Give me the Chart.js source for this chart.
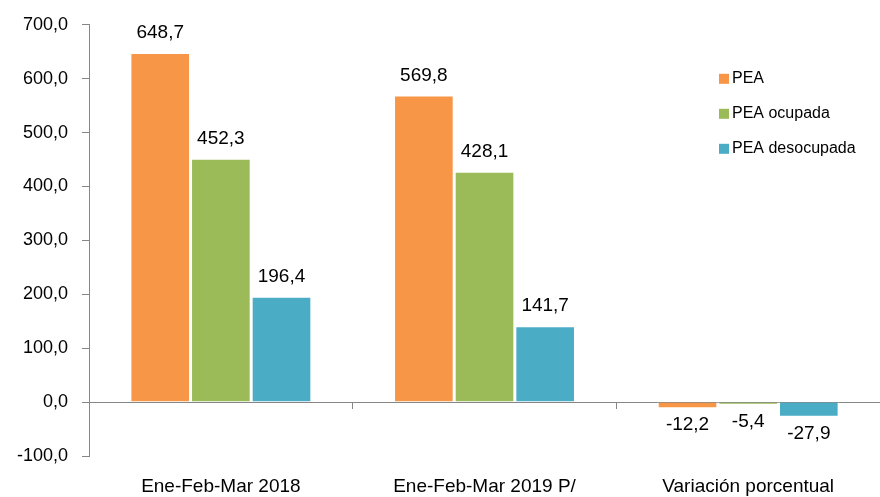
<!DOCTYPE html>
<html>
<head>
<meta charset="utf-8">
<script src="https://cdn.jsdelivr.net/npm/chart.js@4/dist/chart.umd.min.js"></script>
<style>
  html, body { margin: 0; padding: 0; background: #fff; }
  #wrap { width: 880px; height: 497px; }
</style>
</head>
<body>
<div id="wrap"><canvas id="c"></canvas></div>
<script>
const categories = ["Ene-Feb-Mar 2018", "Ene-Feb-Mar 2019 P/", "Variación porcentual"];
const seriesNames = ["PEA", "PEA ocupada", "PEA desocupada"];
const pea = [648.7, 569.8, -12.2];
const peaOcupada = [452.3, 428.1, -5.4];
const peaDesocupada = [196.4, 141.7, -27.9];
const yMin = -100, yMax = 700, yStep = 100;

const colors = ["#F79646", "#9BBB59", "#4BACC6"];
const axisGray = "#868686";
const fontFam = "'Liberation Sans', Arial, sans-serif";
const fmt = v => v.toFixed(1).replace(".", ",");

const barLabels = {
  id: "barLabels",
  afterDatasetsDraw(chart) {
    const ctx = chart.ctx;
    ctx.save();
    ctx.font = "19px " + fontFam;
    ctx.fillStyle = "#000";
    ctx.textAlign = "center";
    chart.data.datasets.forEach((ds, i) => {
      chart.getDatasetMeta(i).data.forEach((bar, j) => {
        const v = ds.data[j];
        if (v >= 0) {
          ctx.textBaseline = "bottom";
          ctx.fillText(fmt(v), bar.x, bar.y - 10);
        } else {
          ctx.textBaseline = "top";
          ctx.fillText(fmt(v), bar.x, bar.y + 7);
        }
      });
    });
    ctx.restore();
  }
};

const floatLegend = {
  id: "floatLegend",
  afterDraw(chart) {
    const ctx = chart.ctx;
    const x0 = chart.chartArea.right - 161;
    const y0 = chart.chartArea.top + 54;
    ctx.save();
    ctx.font = "16px " + fontFam;
    ctx.textBaseline = "middle";
    ctx.textAlign = "left";
    chart.data.datasets.forEach((ds, i) => {
      const y = y0 + i * 35;
      ctx.fillStyle = ds.backgroundColor;
      ctx.fillRect(x0, y - 5, 10, 10);
      ctx.fillStyle = "#000";
      ctx.fillText(ds.label, x0 + 13, y);
    });
    ctx.restore();
  }
};

const values = [pea, peaOcupada, peaDesocupada];

new Chart(document.getElementById("c"), {
  type: "bar",
  data: {
    labels: categories,
    datasets: seriesNames.map((name, i) => ({
      label: name,
      data: values[i],
      backgroundColor: colors[i],
      borderColor: "#fff",
      borderWidth: 1.5,
      categoryPercentage: 0.69,
      barPercentage: 1.0
    }))
  },
  options: {
    responsive: true,
    maintainAspectRatio: false,
    animation: false,
    layout: { padding: { top: 17, right: 0, left: 3, bottom: 0 } },
    plugins: { legend: { display: false }, tooltip: { enabled: false } },
    scales: {
      x: {
        position: { y: 0 },
        grid: { display: true, drawOnChartArea: false, offset: true, tickLength: 6, color: axisGray },
        border: { color: axisGray, width: 1 },
        ticks: { display: false }
      },
      x2: {
        type: "category",
        labels: categories,
        position: "bottom",
        offset: true,
        grid: { display: false },
        border: { display: false },
        ticks: { color: "#000", font: { family: fontFam, size: 19 }, padding: 11 },
        afterFit: s => { s.height = 41; }
      },
      y: {
        min: yMin,
        max: yMax,
        ticks: {
          stepSize: yStep,
          color: "#000",
          padding: 14,
          font: { family: fontFam, size: 18 },
          callback: v => fmt(v)
        },
        grid: { drawOnChartArea: false, tickLength: 7, color: axisGray },
        border: { color: axisGray, width: 1 }
      }
    }
  },
  plugins: [barLabels, floatLegend]
});
</script>
</body>
</html>
